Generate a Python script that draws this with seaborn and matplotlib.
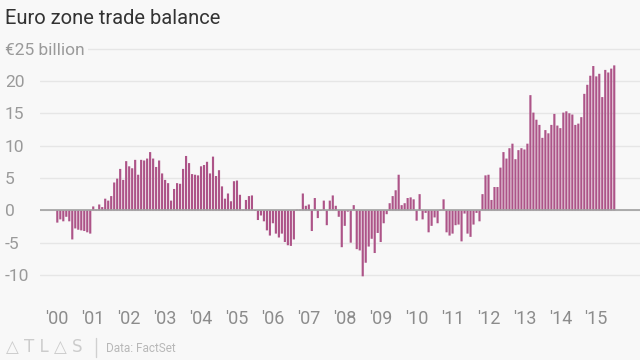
import matplotlib
matplotlib.use("Agg")
import matplotlib.pyplot as plt
import pandas as pd
import seaborn as sns

TITLE = "Euro zone trade balance"
SOURCE = "Data: FactSet"
LOGO = "△ T L △ S"

# monthly euro zone trade balance, € billion (Jan 2000 - Jul 2015)
bal_2000 = [-1.9, -1.4, -1.7, -1.0, -1.7, -4.5, -2.8, -3.0, -3.1, -3.2, -3.4, -3.6]
bal_2001 = [0.6, 0.1, 0.9, 0.5, 1.8, 1.5, 2.2, 4.3, 4.9, 6.4, 4.7, 7.6]
bal_2002 = [6.8, 6.5, 7.8, 5.5, 7.8, 7.7, 8.0, 9.0, 8.0, 6.7, 7.7, 5.7]
bal_2003 = [4.7, 4.2, 1.5, 3.3, 4.2, 4.1, 6.4, 8.4, 7.3, 5.6, 5.5, 5.4]
bal_2004 = [6.8, 7.0, 7.5, 5.7, 8.3, 5.3, 6.2, 3.7, 1.8, 2.6, 1.4, 4.5]
bal_2005 = [4.6, 2.4, 0.1, 1.6, 2.2, 2.3, -0.1, -1.5, -0.8, -1.7, -3.1, -3.9]
bal_2006 = [-2.0, -3.6, -4.2, -3.6, -4.9, -5.4, -5.5, -4.5, 0.1, 0.1, 2.6, 0.7]
bal_2007 = [0.9, -3.2, 1.9, -1.2, -0.1, 1.5, -2.3, 1.5, 2.3, 0.7, -1.0, -5.7]
bal_2008 = [-2.4, -0.2, -5.0, 0.8, -6.0, -6.2, -10.2, -8.1, -5.6, -4.4, -6.6, -3.5]
bal_2009 = [-4.9, -2.0, -0.6, 1.1, 2.2, 3.1, 5.5, 0.8, 1.1, 1.9, 2.0, 1.7]
bal_2010 = [-1.6, 2.5, -1.4, -0.4, -3.4, -2.4, -1.1, -2.0, 0.1, 1.7, -3.4, -3.9]
bal_2011 = [-3.6, -2.3, -2.2, -4.8, -0.5, -3.6, -4.1, -2.2, -0.4, -1.7, 2.5, 5.4]
bal_2012 = [5.5, 1.6, 3.6, 3.6, 6.6, 9.0, 8.0, 9.6, 10.3, 7.9, 9.3, 9.6]
bal_2013 = [9.4, 10.3, 17.8, 15.1, 14.0, 13.2, 11.2, 12.4, 11.9, 13.2, 14.9, 13.1]
bal_2014 = [12.7, 15.1, 15.3, 15.0, 14.8, 13.2, 13.4, 14.4, 18.0, 19.4, 20.8, 22.3]
bal_2015 = [20.7, 21.1, 17.5, 21.7, 21.3, 21.9, 22.4]

year_labels = ["′00", "′01", "′02", "′03", "′04", "′05", "′06", "′07",
               "′08", "′09", "′10", "′11", "′12", "′13", "′14", "′15"]
y_ticks = [-10, -5, 0, 5, 10, 15, 20, 25]
y_labels = ["-10", "-5", "0", "5", "10", "15", "20", "€25 billion"]

BG = "#f8f8f8"
BAR = "#ad5488"
GRID = "#e6e6e6"

values = (bal_2000 + bal_2001 + bal_2002 + bal_2003 + bal_2004 + bal_2005
          + bal_2006 + bal_2007 + bal_2008 + bal_2009 + bal_2010 + bal_2011
          + bal_2012 + bal_2013 + bal_2014 + bal_2015)
months = pd.date_range("2000-01-01", periods=len(values), freq="MS")
df = pd.DataFrame({"month": months.strftime("%Y-%m"), "balance": values})

sns.set_style("white")
plt.rcParams["font.family"] = ["Roboto", "DejaVu Sans"]

fig = plt.figure(figsize=(6.4, 3.6), dpi=100)
fig.patch.set_facecolor(BG)
ax = fig.add_axes([40 / 640, 60 / 360, 600 / 640, 253 / 360])
ax.set_facecolor(BG)

sns.barplot(data=df, x="month", y="balance", color=BAR, saturation=1,
            width=0.72, errorbar=None, linewidth=0, ax=ax)
# even anti-aliased edges on every bar, like the reference
for p in ax.patches:
    p.set_snap(False)

ax.set_xlim(-5.78, 194.6)
ax.set_ylim(-13.86, 25.24)
ax.set_xlabel("")
ax.set_ylabel("")
for s in ax.spines.values():
    s.set_visible(False)

ax.set_axisbelow(True)
ax.grid(axis="y", color=GRID, linewidth=1)
ax.grid(axis="x", visible=False)
ax.axhline(0, color="#a0a0a0", linewidth=1.2, zorder=3)

ax.set_xticks([12 * i for i in range(len(year_labels))], year_labels)
ax.tick_params(axis="x", direction="in", length=12.2, width=1, color="#e0e0e0",
               pad=7, labelsize=13, labelcolor="#8c8c8c")

ax.set_yticks(y_ticks, y_labels)
ax.tick_params(axis="y", length=0, pad=25.2, labelsize=12.5, labelcolor="#9a9a9a")
for lab in ax.get_yticklabels():
    lab.set_horizontalalignment("left")
    if lab.get_text().startswith("€"):
        lab.set_bbox(dict(facecolor=BG, edgecolor="none", pad=2.5))

fig.text(5 / 640, 1 - 18 / 360, TITLE, fontsize=14.5, color="#333333", va="center")
fig.text(6 / 640, 1 - 347 / 360, LOGO, fontsize=12, color="#cccccc",
         va="center", family=["DejaVu Sans"])
fig.add_artist(plt.Line2D([96 / 640, 96 / 640], [1 - 338 / 360, 1 - 357 / 360],
                          color="#d0d0d0", linewidth=1))
fig.text(106 / 640, 1 - 348 / 360, SOURCE, fontsize=8.5, color="#b8b8b8", va="center")

fig.savefig("out.png", dpi=100, facecolor=BG)
